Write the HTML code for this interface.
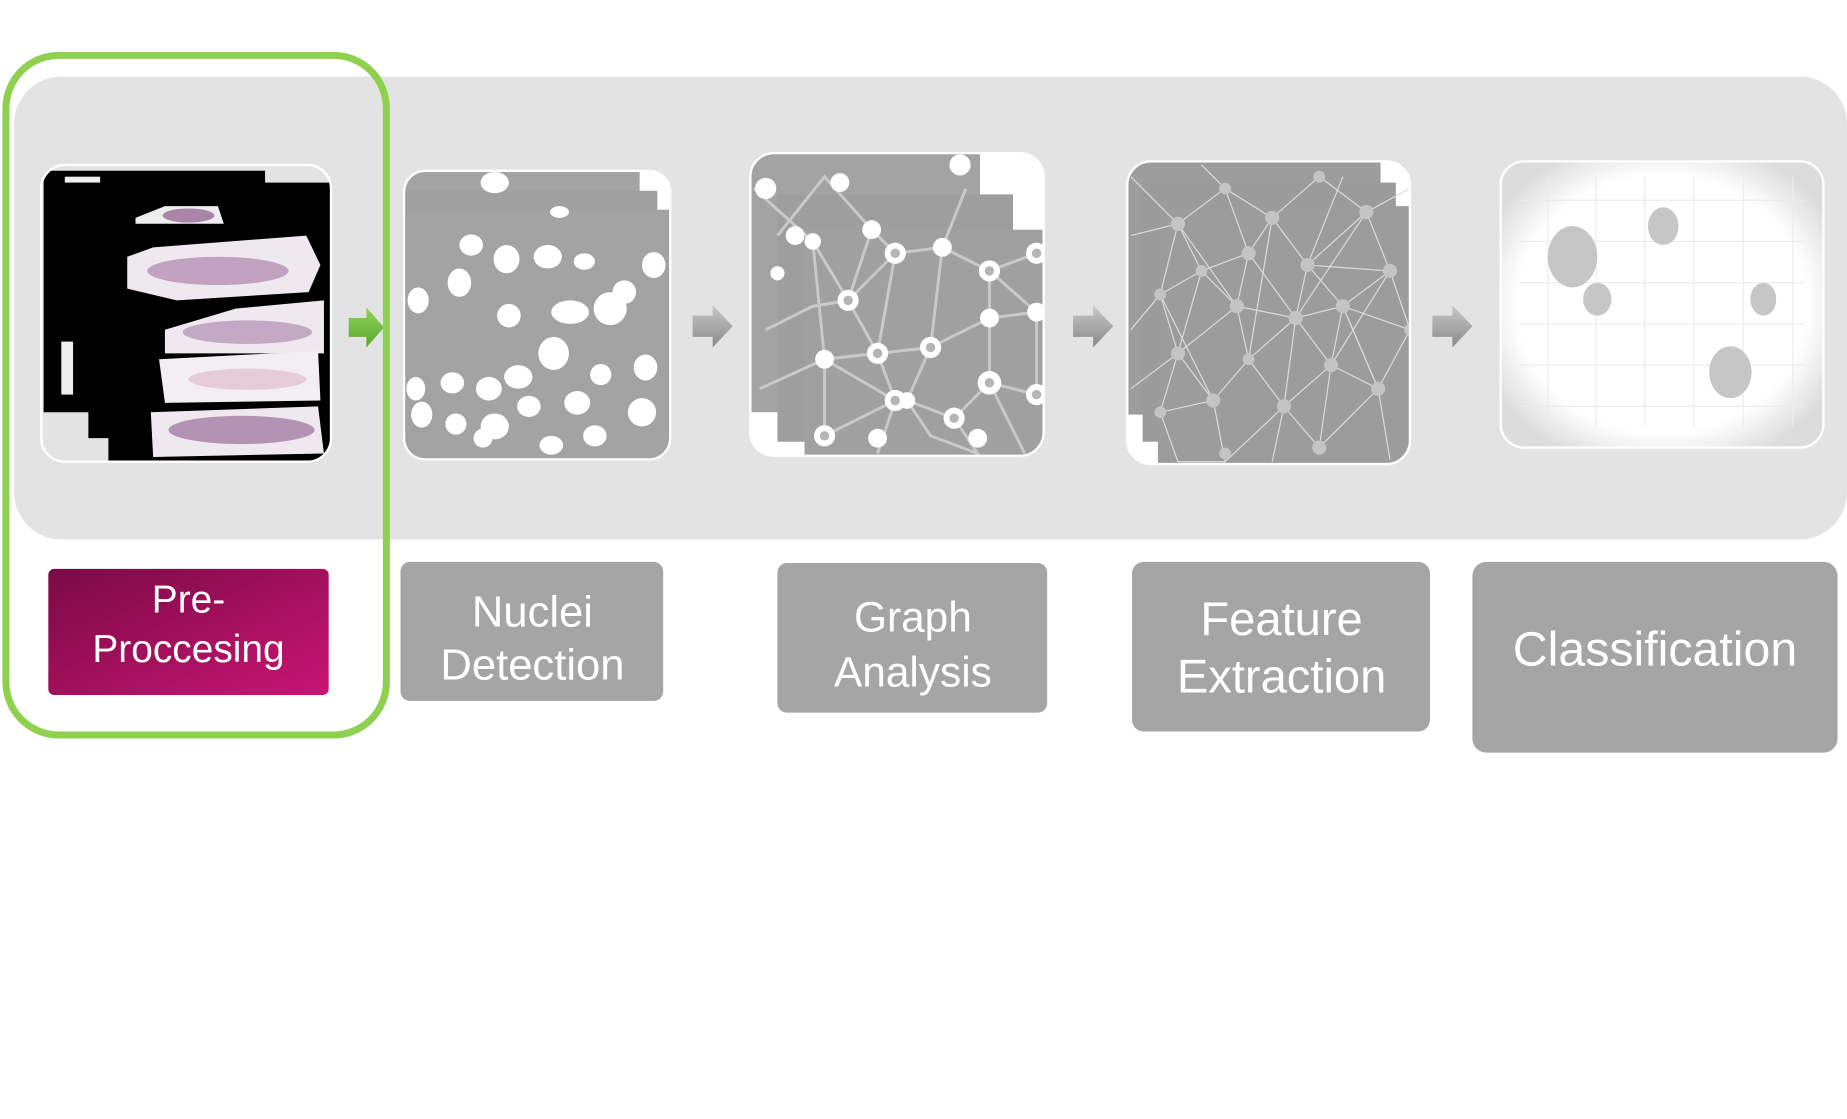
<!DOCTYPE html>
<html><head><meta charset="utf-8"><style>
html,body{margin:0;padding:0;background:#fff;}
svg{display:block;}
text{font-family:"Liberation Sans",sans-serif;fill:#fff;text-anchor:middle;}
</style></head><body>
<svg width="1847" height="1119" viewBox="0 0 1568 950" xmlns="http://www.w3.org/2000/svg">
<defs>
<linearGradient id="mg" x1="0" y1="0" x2="1" y2="1">
<stop offset="0" stop-color="#7a0a45"/><stop offset="1" stop-color="#c81573"/></linearGradient>
<linearGradient id="ag" x1="0" y1="0" x2="0" y2="1">
<stop offset="0" stop-color="#c8c8c8"/><stop offset="1" stop-color="#8a8a8a"/></linearGradient>
<linearGradient id="gg" x1="0" y1="0" x2="0" y2="1">
<stop offset="0" stop-color="#8ed45a"/><stop offset="1" stop-color="#5aa82e"/></linearGradient>
<clipPath id="c1"><rect x="35" y="140" width="246" height="252" rx="20"/></clipPath>
<clipPath id="c2"><rect x="343" y="145" width="226" height="245" rx="18"/></clipPath>
<clipPath id="c3"><rect x="637" y="130" width="249" height="257" rx="20"/></clipPath>
<clipPath id="c4"><rect x="957" y="137" width="240" height="257" rx="20"/></clipPath>
<radialGradient id="wg" cx="0.5" cy="0.5" r="0.6"><stop offset="0.75" stop-color="#fff"/><stop offset="1" stop-color="#dcdcdc"/></radialGradient>
</defs>
<!-- panel -->
<rect x="12" y="65" width="1556" height="393" rx="40" fill="#e3e3e3"/>

<!-- tile 1 -->
<rect x="35" y="140" width="246" height="252" rx="20" fill="#fff"/>
<g clip-path="url(#c1)">
<rect x="35" y="140" width="246" height="252" fill="#e3e3e3"/>
<path d="M37 145 H225 V155 H282 V392 H92 V372 H75 V350 H37 Z" fill="#000"/>
<path d="M115 185 L140 175 H185 L190 190 H115 Z" fill="#eee"/>
<ellipse cx="160" cy="183" rx="22" ry="6" fill="#8b5a8b" opacity="0.7"/>
<path d="M108 218 L130 210 L260 200 L272 225 L262 248 L150 255 L108 245 Z" fill="#efe9ef"/>
<ellipse cx="185" cy="230" rx="60" ry="12" fill="#9a6a9a" opacity="0.55"/>
<path d="M140 280 L200 262 L275 255 L275 300 L140 300 Z" fill="#efe9ef"/>
<ellipse cx="210" cy="282" rx="55" ry="10" fill="#9a6a9a" opacity="0.5"/>
<path d="M135 305 L270 298 L272 340 L140 342 Z" fill="#f3eef2"/>
<ellipse cx="210" cy="322" rx="50" ry="9" fill="#d9a7bf" opacity="0.5"/>
<path d="M128 350 L270 345 L275 385 L130 388 Z" fill="#efe9ef"/>
<ellipse cx="205" cy="365" rx="62" ry="12" fill="#8b5a8b" opacity="0.6"/>
<rect x="55" y="150" width="30" height="5" fill="#eee"/>
<rect x="52" y="290" width="10" height="45" fill="#eee"/>
</g>
<rect x="35" y="140" width="246" height="252" rx="20" fill="none" stroke="#fff" stroke-width="2"/>

<!-- tile 2 -->
<rect x="343" y="145" width="226" height="245" rx="18" fill="#fff"/>
<g clip-path="url(#c2)">
<rect x="343" y="145" width="200" height="100" fill="#a4a4a4"/>
<rect x="343" y="162" width="215" height="100" fill="#a0a0a0"/>
<rect x="343" y="178" width="226" height="212" fill="#a2a2a2"/>
<rect x="370" y="180" width="199" height="210" fill="#a3a3a3"/>
<g fill="#fff">
<ellipse cx="420" cy="155" rx="12" ry="9"/><ellipse cx="400" cy="208" rx="10" ry="9"/><ellipse cx="430" cy="220" rx="11" ry="12"/>
<ellipse cx="465" cy="218" rx="12" ry="10"/><ellipse cx="496" cy="222" rx="9" ry="7"/><ellipse cx="555" cy="225" rx="10" ry="11"/>
<ellipse cx="390" cy="240" rx="10" ry="12"/><ellipse cx="355" cy="255" rx="9" ry="11"/><ellipse cx="432" cy="268" rx="10" ry="10"/>
<ellipse cx="484" cy="265" rx="16" ry="10"/><ellipse cx="518" cy="262" rx="14" ry="14"/><ellipse cx="530" cy="248" rx="10" ry="10"/>
<ellipse cx="470" cy="300" rx="13" ry="14"/><ellipse cx="440" cy="320" rx="12" ry="10"/><ellipse cx="510" cy="318" rx="9" ry="9"/>
<ellipse cx="548" cy="312" rx="10" ry="11"/><ellipse cx="384" cy="325" rx="10" ry="9"/><ellipse cx="415" cy="330" rx="11" ry="10"/>
<ellipse cx="358" cy="352" rx="9" ry="11"/><ellipse cx="387" cy="360" rx="9" ry="9"/><ellipse cx="420" cy="362" rx="12" ry="11"/>
<ellipse cx="449" cy="345" rx="10" ry="9"/><ellipse cx="490" cy="342" rx="11" ry="10"/><ellipse cx="545" cy="350" rx="12" ry="12"/>
<ellipse cx="410" cy="372" rx="8" ry="8"/><ellipse cx="468" cy="378" rx="10" ry="8"/><ellipse cx="505" cy="370" rx="10" ry="9"/>
<ellipse cx="353" cy="330" rx="8" ry="10"/><ellipse cx="475" cy="180" rx="8" ry="5"/>
</g></g>
<rect x="343" y="145" width="226" height="245" rx="18" fill="none" stroke="#fff" stroke-width="2"/>

<!-- tile 3 -->
<rect x="637" y="130" width="249" height="257" rx="20" fill="#fff"/>
<g clip-path="url(#c3)">
<rect x="637" y="130" width="195" height="220" fill="#a3a3a3"/>
<rect x="660" y="165" width="200" height="210" fill="#9e9e9e"/>
<rect x="683" y="195" width="203" height="192" fill="#a0a0a0"/>
<g stroke="#c9c9c9" stroke-width="2.5" fill="none">
<path d="M690 205 L720 255 L760 215 L800 210 L840 230 L880 215 M720 255 L745 300 L700 305 L690 205 M760 215 L745 300 L790 295 L800 210 M790 295 L840 270 L840 230 L880 265 L840 270 M745 300 L760 340 L700 305 M790 295 L770 340 L760 340 M770 340 L810 355 L840 325 L840 270 M840 325 L880 335 L880 265 M810 355 L830 385 L790 370 L770 340 M700 305 L700 370 L760 340 L745 385 M840 325 L870 385 M720 255 L690 260 M760 215 L740 195 L720 255"/>
<path d="M640 160 L690 205 M660 200 L700 150 L740 195 M650 280 L690 260 M645 330 L700 305 M800 210 L820 160"/>
</g>
<g fill="#fff">
<circle cx="720" cy="255" r="9"/><circle cx="760" cy="215" r="9"/><circle cx="800" cy="210" r="8"/><circle cx="840" cy="230" r="9"/>
<circle cx="880" cy="215" r="9"/><circle cx="745" cy="300" r="9"/><circle cx="700" cy="305" r="8"/><circle cx="790" cy="295" r="9"/>
<circle cx="840" cy="270" r="8"/><circle cx="880" cy="265" r="8"/><circle cx="760" cy="340" r="9"/><circle cx="770" cy="340" r="7"/>
<circle cx="810" cy="355" r="9"/><circle cx="840" cy="325" r="10"/><circle cx="880" cy="335" r="9"/><circle cx="700" cy="370" r="9"/>
<circle cx="745" cy="372" r="8"/><circle cx="830" cy="372" r="8"/><circle cx="740" cy="195" r="8"/><circle cx="690" cy="205" r="7"/>
<circle cx="650" cy="160" r="9"/><circle cx="713" cy="155" r="8"/><circle cx="815" cy="140" r="9"/><circle cx="675" cy="200" r="8"/>
<circle cx="660" cy="232" r="6"/>
</g>
<g fill="#b5b5b5">
<circle cx="720" cy="255" r="4"/><circle cx="760" cy="215" r="4"/><circle cx="840" cy="230" r="4"/><circle cx="745" cy="300" r="4"/>
<circle cx="790" cy="295" r="4"/><circle cx="760" cy="340" r="4"/><circle cx="810" cy="355" r="4"/><circle cx="840" cy="325" r="4"/>
<circle cx="880" cy="335" r="4"/><circle cx="700" cy="370" r="4"/><circle cx="880" cy="215" r="4"/>
</g></g>
<rect x="637" y="130" width="249" height="257" rx="20" fill="none" stroke="#fff" stroke-width="2"/>

<!-- tile 4 -->
<rect x="957" y="137" width="240" height="257" rx="20" fill="#fff"/>
<g clip-path="url(#c4)">
<rect x="957" y="137" width="215" height="215" fill="#9d9d9d"/>
<rect x="970" y="155" width="215" height="220" fill="#9b9b9b"/>
<rect x="983" y="175" width="214" height="219" fill="#9c9c9c"/>
<g stroke="#dcdcdc" stroke-width="1" fill="none">
<path d="M960 150 L1000 190 L1040 160 L1080 185 L1120 150 L1160 180 L1197 160 M1000 190 L1020 230 L1060 215 L1080 185 L1110 225 L1160 180 L1180 230 L1110 225 M1020 230 L985 250 L1000 190 M1060 215 L1050 260 L1020 230 M1060 215 L1100 270 L1110 225 M1050 260 L1100 270 L1140 260 L1180 230 L1197 280 L1140 260 L1110 225 M985 250 L1000 300 L1050 260 L1060 305 L1100 270 L1130 310 L1140 260 M1000 300 L1030 340 L1060 305 L1090 345 L1130 310 L1170 330 L1197 280 M1030 340 L985 350 L1000 300 M1090 345 L1060 305 M1090 345 L1120 380 L1170 330 L1180 390 M1030 340 L1040 392 L1090 345 L1080 392 M985 350 L1000 392 L1040 392 M1120 380 L1130 310 M960 200 L1000 190 M960 280 L985 250 M960 330 L1000 300 M1040 160 L1060 215 M1080 185 L1120 150 M1180 230 L1160 180 M1140 150 L1110 225 M1020 140 L1040 160 M1170 330 L1140 260"/>
<path d="M1000 190 L1050 260 M1080 185 L1060 305 M1180 230 L1130 310 M1020 230 L1000 300 M1100 270 L1090 345 M1160 180 L1100 270 M985 250 L1030 340 M1140 260 L1170 330"/>
</g>
<g fill="#c4c4c4">
<circle cx="1000" cy="190" r="6"/><circle cx="1040" cy="160" r="5"/><circle cx="1080" cy="185" r="6"/><circle cx="1120" cy="150" r="5"/>
<circle cx="1160" cy="180" r="6"/><circle cx="1020" cy="230" r="5"/><circle cx="1060" cy="215" r="6"/><circle cx="1110" cy="225" r="6"/>
<circle cx="1180" cy="230" r="6"/><circle cx="985" cy="250" r="5"/><circle cx="1050" cy="260" r="6"/><circle cx="1100" cy="270" r="6"/>
<circle cx="1140" cy="260" r="6"/><circle cx="1000" cy="300" r="6"/><circle cx="1060" cy="305" r="5"/><circle cx="1130" cy="310" r="6"/>
<circle cx="1030" cy="340" r="6"/><circle cx="1090" cy="345" r="6"/><circle cx="1170" cy="330" r="6"/><circle cx="1120" cy="380" r="6"/>
<circle cx="1040" cy="385" r="5"/><circle cx="985" cy="350" r="5"/><circle cx="1197" cy="280" r="5"/>
</g></g>
<rect x="957" y="137" width="240" height="257" rx="20" fill="none" stroke="#fff" stroke-width="2"/>

<!-- tile 5 -->
<rect x="1274" y="137" width="274" height="243" rx="20" fill="url(#wg)" stroke="#fff" stroke-width="2"/>
<g stroke="#ececec" stroke-width="1">
<path d="M1290 170 H1532 M1290 205 H1532 M1290 240 H1532 M1290 275 H1532 M1290 310 H1532 M1290 345 H1532 M1314 150 V362 M1355 150 V362 M1396 150 V362 M1438 150 V362 M1480 150 V362 M1522 150 V362"/>
</g>
<g fill="#c6c6c6">
<ellipse cx="1335" cy="218" rx="21" ry="26"/><ellipse cx="1412" cy="192" rx="13" ry="16"/><ellipse cx="1356" cy="254" rx="12" ry="14"/>
<ellipse cx="1497" cy="254" rx="11" ry="14"/><ellipse cx="1469" cy="316" rx="18" ry="22"/>
</g>

<!-- arrows -->
<path d="M296 270 H311 V261 L326 278 L311 295 V286 H296 Z" fill="url(#gg)"/>
<path d="M588 268 H605 V259 L622 277 L605 295 V286 H588 Z" fill="url(#ag)"/>
<path d="M911 268 H928 V259 L945 277 L928 295 V286 H911 Z" fill="url(#ag)"/>
<path d="M1216 268 H1233 V259 L1250 277 L1233 295 V286 H1216 Z" fill="url(#ag)"/>

<!-- green highlight -->
<rect x="5" y="47" width="323" height="577" rx="45" fill="none" stroke="#8fd14f" stroke-width="6"/>

<!-- labels -->
<rect x="41" y="483" width="238" height="107" rx="5" fill="url(#mg)"/>
<rect x="340" y="477" width="223" height="118" rx="8" fill="#a5a5a5"/>
<rect x="660" y="478" width="229" height="127" rx="8" fill="#a5a5a5"/>
<rect x="961" y="477" width="253" height="144" rx="10" fill="#a5a5a5"/>
<rect x="1250" y="477" width="310" height="162" rx="12" fill="#a5a5a5"/>
<text x="160" y="520" font-size="33">Pre-</text><text x="160" y="562" font-size="33">Proccesing</text>
<text x="452" y="532" font-size="37">Nuclei</text><text x="452" y="577" font-size="37">Detection</text>
<text x="775" y="536" font-size="36">Graph</text><text x="775" y="583" font-size="36">Analysis</text>
<text x="1088" y="539" font-size="40">Feature</text><text x="1088" y="588" font-size="40">Extraction</text>
<text x="1405" y="565" font-size="41">Classification</text>
</svg>
</body></html>
